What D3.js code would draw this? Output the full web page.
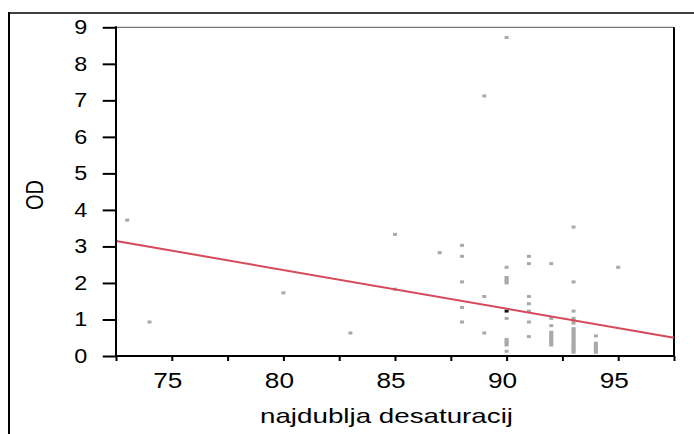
<!DOCTYPE html>
<html>
<head>
<meta charset="utf-8">
<script src="https://cdn.jsdelivr.net/npm/d3@7"></script>
<style>
  html, body { margin: 0; padding: 0; background: #fff; }
  svg { display: block; }
  text { font-family: "Liberation Sans", Arial, sans-serif; fill: #000; }
</style>
</head>
<body>
<svg id="chart" width="694" height="434"></svg>
<script>
// ---- data ----
const desat = [73, 74, 80, 83, 85, 85, 87,
  88, 88, 88, 88, 88,
  89, 89, 89,
  90, 90, 90, 90, 90, 90, 90, 90, 90, 90, 90, 90,
  91, 91, 91, 91, 91, 91, 91,
  92, 92, 92, 92, 92, 92, 92, 92, 92, 92, 92,
  93, 93, 93, 93, 93, 93, 93, 93, 93, 93, 93, 93, 93, 93, 93, 93, 93, 93, 93, 93,
  94, 94, 94, 94, 94, 94, 94,
  95];
const od = [3.72, 0.93, 1.73, 0.63, 3.33, 1.83, 2.83,
  3.03, 2.73, 2.03, 1.33, 0.93,
  7.12, 1.63, 0.63,
  8.72, 2.43, 2.15, 2.10, 2.05, 2.00, 1.03, 0.45, 0.40, 0.35, 0.30, 0.13,
  2.73, 2.53, 1.63, 1.43, 1.23, 0.93, 0.53,
  2.53, 1.03, 0.83, 0.65, 0.60, 0.55, 0.50, 0.45, 0.40, 0.35, 0.30,
  3.53, 2.03, 1.23, 1.03, 0.97, 0.90, 0.75, 0.70, 0.65, 0.60, 0.55, 0.50, 0.45, 0.40, 0.35, 0.30, 0.25, 0.20, 0.15, 0.10,
  0.55, 0.35, 0.30, 0.25, 0.20, 0.15, 0.10,
  2.43];
const highlightX = [90];
const highlightY = [1.23];
const fitIntercept = 10.835;   // OD = a + b * desat
const fitSlope = -0.106;
const xDomain = [72.5, 97.5];
const yDomain = [0, 9];
const xTicks = [72.5, 75, 77.5, 80, 82.5, 85, 87.5, 90, 92.5, 95, 97.5];
const xTickLabels = [75, 80, 85, 90, 95];
const yTicks = [0, 1, 2, 3, 4, 5, 6, 7, 8, 9];
const xTitle = "najdublja desaturacij";
const yTitle = "OD";

// ---- drawing ----
const svg = d3.select("#chart");
const L = 116, R = 674, T = 27.3, B = 356;
const x = d3.scaleLinear().domain(xDomain).range([L, R]);
const y = d3.scaleLinear().domain(yDomain).range([B, T]);

// outer frame (left + top)
svg.append("line").attr("x1", 9).attr("x2", 9).attr("y1", 12.3).attr("y2", 434)
  .attr("stroke", "#000").attr("stroke-width", 2);
svg.append("line").attr("x1", 8).attr("x2", 694).attr("y1", 13).attr("y2", 13)
  .attr("stroke", "#000").attr("stroke-width", 1.5);

// plot frame top + right
svg.append("line").attr("x1", L).attr("x2", R).attr("y1", T).attr("y2", T)
  .attr("stroke", "#777").attr("stroke-width", 1.2);
svg.append("line").attr("x1", R).attr("x2", R).attr("y1", T).attr("y2", B)
  .attr("stroke", "#000").attr("stroke-width", 2);

// points
svg.append("g").selectAll("rect").data(d3.range(desat.length)).join("rect")
  .attr("x", i => x(desat[i]) - 2)
  .attr("y", i => y(od[i]) - 1.5)
  .attr("width", 4).attr("height", 3)
  .attr("fill", "#a9a9a9");
svg.append("g").selectAll("rect").data(d3.range(highlightX.length)).join("rect")
  .attr("x", i => x(highlightX[i]) - 2)
  .attr("y", i => y(highlightY[i]) - 1.5)
  .attr("width", 4).attr("height", 3)
  .attr("fill", "#111");

// fit line
svg.append("line")
  .attr("x1", x(xDomain[0])).attr("y1", y(fitIntercept + fitSlope * xDomain[0]))
  .attr("x2", x(xDomain[1])).attr("y2", y(fitIntercept + fitSlope * xDomain[1]))
  .attr("stroke", "#d6495b").attr("stroke-width", 2);

// x axis
const xAxis = d3.axisBottom(x).tickValues(xTicks).tickSize(5).tickSizeOuter(0)
  .tickFormat(d => xTickLabels.includes(d) ? String(d) : "");
const gx = svg.append("g").attr("transform", `translate(0,${B})`).call(xAxis);
gx.select(".domain").attr("stroke", "#000").attr("stroke-width", 2).attr("d", `M${L - 1},0H${R + 1}`);
gx.selectAll(".tick line").attr("stroke", "#000").attr("stroke-width", 2);
gx.selectAll(".tick text")
  .attr("font-size", 22).attr("font-family", "Liberation Sans, Arial, sans-serif")
  .attr("dy", 0).attr("y", 32.3).attr("x", -4.5)
  .attr("transform", "translate(-4.5,0) scale(1.19,1) translate(4.5,0)");

// y axis
const yAxis = d3.axisLeft(y).tickValues(yTicks).tickSize(13.3).tickSizeOuter(0).tickPadding(15.4)
  .tickFormat(d3.format("d"));
const gy = svg.append("g").attr("transform", `translate(${L},0)`).call(yAxis);
gy.select(".domain").attr("stroke", "#000").attr("stroke-width", 2).attr("d", `M0,${T - 1}V${B + 1}`);
gy.selectAll(".tick line").attr("stroke", "#000").attr("stroke-width", 2);
gy.selectAll(".tick text")
  .attr("font-size", 19.5).attr("font-family", "Liberation Sans, Arial, sans-serif")
  .attr("dy", "0.33em")
  .attr("transform", "translate(-28.7,0) scale(1.2,1) translate(28.7,0)");

// titles
svg.append("text").attr("x", 260).attr("y", 423.3)
  .attr("font-size", 21).attr("textLength", 253).attr("lengthAdjust", "spacingAndGlyphs")
  .text(xTitle);
svg.append("text")
  .attr("transform", "translate(43.3,195) scale(1.19,1) rotate(-90)")
  .attr("text-anchor", "middle").attr("font-size", 20)
  .text(yTitle);
</script>
</body>
</html>
